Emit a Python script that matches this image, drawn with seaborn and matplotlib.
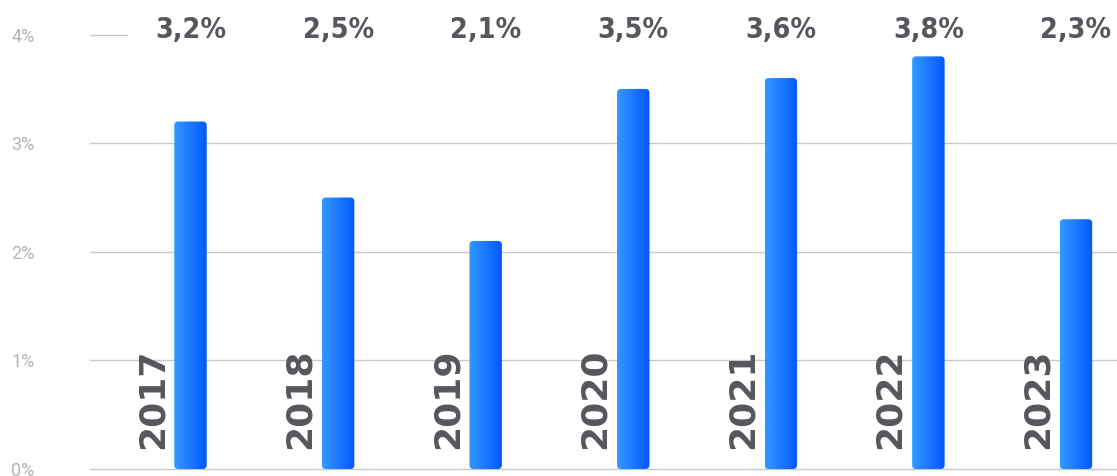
import matplotlib
matplotlib.use("Agg")
from matplotlib import pyplot as plt
from matplotlib.patches import FancyBboxPatch
from matplotlib.colors import LinearSegmentedColormap
import numpy as np
import seaborn as sns

years = ["2017", "2018", "2019", "2020", "2021", "2022", "2023"]
values = [3.2, 2.5, 2.1, 3.5, 3.6, 3.8, 2.3]
value_labels = ["3,2%", "2,5%", "2,1%", "3,5%", "3,6%", "3,8%", "2,3%"]
yticks = [0, 1, 2, 3, 4]
ytick_labels = ["0%", "1%", "2%", "3%", "4%"]

sns.set_style("white")
plt.rcParams["font.family"] = ["DejaVu Sans"]

fig = plt.figure(figsize=(11.17, 4.76), dpi=100)
ax = fig.add_axes([90 / 1117, 7 / 476, 1027 / 1117, 469 / 476])

sns.barplot(x=years, y=values, width=0.22, color="#1a75ff", ax=ax)

xlim = (-0.681, 6.278)
ylim = (0, 4.319)

# gradient fill with rounded corners instead of plain bars
grad = LinearSegmentedColormap.from_list("blu", ["#3399ff", "#0558ff"])
gimg = np.linspace(0, 1, 64).reshape(1, -1)
px_x = 1027 / (xlim[1] - xlim[0])
px_y = 469 / (ylim[1] - ylim[0])
for p in ax.patches:
    p.set_visible(False)
    x0, w, h = p.get_x(), p.get_width(), p.get_height()
    box = FancyBboxPatch((x0, 0), w, h,
                         boxstyle="round,pad=0,rounding_size=%f" % (4 / px_x),
                         mutation_aspect=px_x / px_y,
                         facecolor="none", edgecolor="none", zorder=2)
    ax.add_patch(box)
    im = ax.imshow(gimg, cmap=grad, extent=(x0, x0 + w, 0, h),
                   aspect="auto", zorder=2, interpolation="bicubic")
    im.set_clip_path(box)

# gridlines
for v in yticks[:-1]:
    ax.axhline(v, color="#c8c8c8", lw=1, zorder=0, clip_on=False)
ax.axhline(4, xmin=0, xmax=37 / 1027, color="#c8c8c8", lw=1, zorder=0)

# value labels on top
for i, lab in enumerate(value_labels):
    ax.text(i, 4.04, lab, ha="center", va="center", fontsize=20.5,
            fontweight="bold", fontstretch="condensed", color="#55575c")

# rotated year labels
for i, yr in enumerate(years):
    ax.text(i - 0.26, 0.645, yr, rotation=90, ha="center", va="center",
            fontsize=26, fontweight="bold", color="#55575c")

ax.set_xlim(*xlim)
ax.set_ylim(*ylim)
ax.set_yticks(yticks)
ax.set_yticklabels(ytick_labels, family=["Roboto", "DejaVu Sans"])
ax.set_xticks([])
ax.tick_params(axis="y", length=0, pad=40, labelcolor="#b4b4b4", labelsize=13)
ax.set_xlabel("")
ax.set_ylabel("")
for s in ax.spines.values():
    s.set_visible(False)

fig.savefig("out.png", dpi=100)
